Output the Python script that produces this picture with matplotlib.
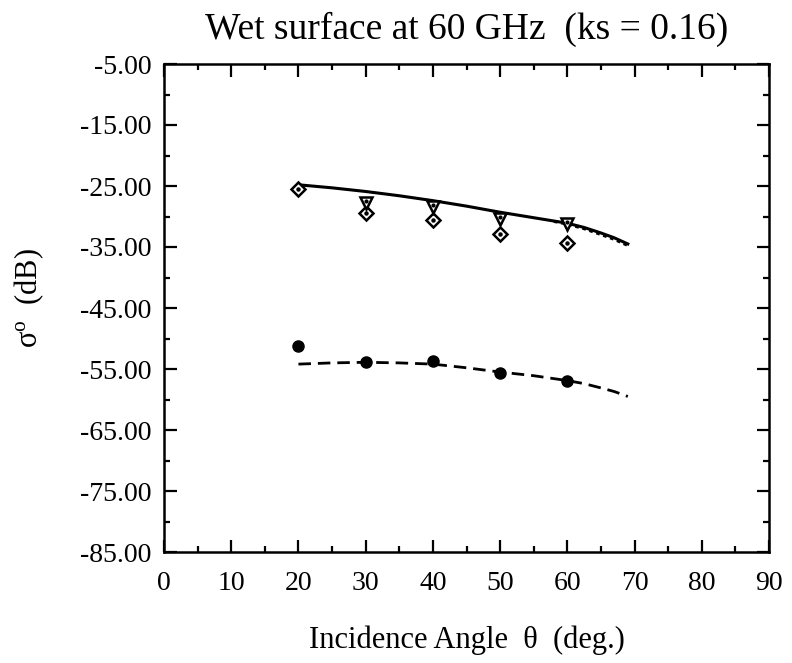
import matplotlib
matplotlib.use("Agg")
import matplotlib.pyplot as plt
from matplotlib.ticker import MultipleLocator, FormatStrFormatter

plt.rcParams['font.family'] = ['Liberation Serif', 'DejaVu Serif']
plt.rcParams['mathtext.fontset'] = 'custom'
plt.rcParams['mathtext.rm'] = 'Liberation Serif'
plt.rcParams['mathtext.it'] = 'Liberation Serif:italic'

# Measured data
angles = [20, 30, 40, 50, 60]
diamond_vals = [-25.5, -29.4, -30.6, -32.9, -34.4]
tri_angles = [30, 40, 50, 60]
tri_vals = [-27.8, -28.4, -30.4, -31.2]
circle_vals = [-51.2, -53.9, -53.7, -55.7, -56.9]

# Model curves
curve_angles = [20, 25, 30, 35, 40, 45, 50, 55, 60, 62.5, 65, 67, 69]
solid_vals = [-24.8, -25.3, -25.9, -26.6, -27.4, -28.3, -29.3, -30.2, -31.1, -31.8, -32.7, -33.5, -34.5]
dotted_angles = [58, 60, 62.5, 65, 67, 69]
dotted_vals = [-30.8, -31.25, -32.0, -32.95, -33.75, -34.75]
dashed_vals = [-54.2, -54.0, -53.9, -54.0, -54.2, -54.8, -55.5, -56.1, -56.9, -57.4, -58.1, -58.7, -59.5]

fig = plt.figure(figsize=(7.92, 6.63), dpi=100)
ax = fig.add_axes([164/792, 1 - 552/663, (769 - 164)/792, (552 - 64)/663])

ax.plot(curve_angles, solid_vals, color='black', lw=2.2, zorder=2)
ax.plot(dotted_angles, dotted_vals, color='black', lw=2.2, ls=(0, (1.2, 1.2)), zorder=2)
ax.plot(curve_angles, dashed_vals, color='black', lw=2.0, ls=(0, (4.5, 2.5)), zorder=2)

ax.plot(angles, diamond_vals, ls='none', marker='D', ms=7.5, mfc='white', mec='black', mew=1.8, zorder=3)
ax.plot(angles, diamond_vals, ls='none', marker='o', ms=2.2, color='black', zorder=4)
ax.plot(tri_angles, tri_vals, ls='none', marker='v', ms=8.5, mfc='white', mec='black', mew=1.8, zorder=3)
ax.plot(tri_angles, [v + 0.3 for v in tri_vals], ls='none', marker='o', ms=2.0, color='black', zorder=4)
ax.plot(angles, circle_vals, ls='none', marker='o', ms=8, color='black', zorder=3)

ax.set_xlim(0, 90)
ax.set_ylim(-85, -5)
ax.set_xticks(range(0, 91, 10))
ax.xaxis.set_minor_locator(MultipleLocator(5))
ax.set_yticks([-85, -75, -65, -55, -45, -35, -25, -15, -5])
ax.yaxis.set_minor_locator(MultipleLocator(5))
ax.yaxis.set_major_formatter(FormatStrFormatter('%.2f'))

ax.tick_params(which='both', direction='in', top=True, right=True, width=1.6, labelsize=20)
ax.tick_params(axis='y', pad=9)
ax.tick_params(axis='x', pad=14)
ax.tick_params(which='major', length=9)
ax.tick_params(which='minor', length=4)
for s in ax.spines.values():
    s.set_linewidth(1.8)

ax.set_title('Wet surface at 60 GHz  (ks = 0.16)', fontsize=27, pad=18)
ax.set_xlabel('Incidence Angle  θ  (deg.)', fontsize=22, labelpad=21)
ax.set_ylabel('σ$^{\\rm o}$  (dB)', fontsize=22)
ax.yaxis.set_label_coords(-0.195, 0.52)

fig.savefig('out.png', dpi=100)
